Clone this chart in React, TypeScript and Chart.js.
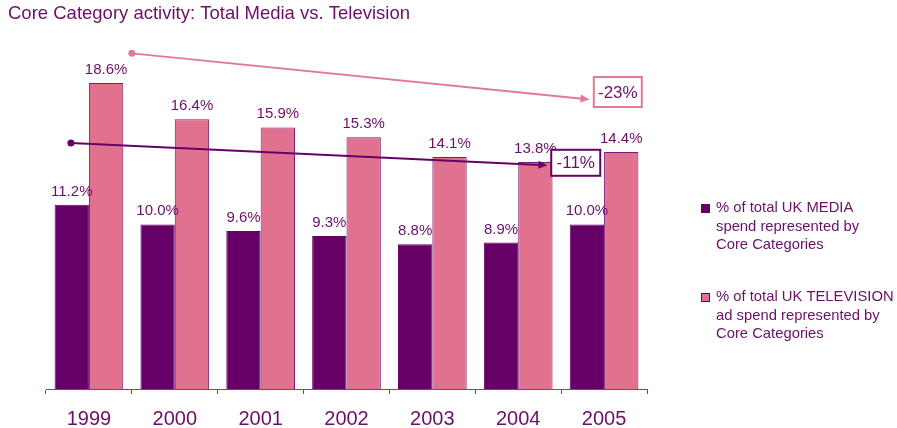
import { useEffect, useRef } from 'react';
import { Chart, registerables } from 'chart.js';
Chart.register(...registerables);

const titleText = 'Core Category activity: Total Media vs. Television';
const years = ['1999', '2000', '2001', '2002', '2003', '2004', '2005'];
const mediaShare = [11.2, 10.0, 9.6, 9.3, 8.8, 8.9, 10.0];
const tvShare = [18.6, 16.4, 15.9, 15.3, 14.1, 13.8, 14.4];
const mediaLegend = ['% of total UK MEDIA', 'spend represented by', 'Core Categories'];
const tvLegend = ['% of total UK TELEVISION', 'ad spend represented by', 'Core Categories'];
// trend annotations: [index, value] in data units
const tvTrendStart = [0.5, 20.4];
const tvTrendEnd = [5.83, 17.6];
const tvTrendBox = [6.16, 18.05];
const tvTrendLabel = '-23%';
const mediaTrendStart = [-0.21, 14.95];
const mediaTrendEnd = [5.34, 13.6];
const mediaTrendBox = [5.67, 13.75];
const mediaTrendLabel = '-11%';

const DARK = '#660066';
const PINK = '#E0718F';
const PINK_LINE = '#E27A96';
const TEXT = '#6a1068';
const FONT = '"Liberation Sans", Arial, sans-serif';

function arrow(ctx: CanvasRenderingContext2D, x1: number, y1: number, x2: number, y2: number, color: string) {
  ctx.save();
  ctx.strokeStyle = color;
  ctx.fillStyle = color;
  ctx.lineWidth = 2;
  ctx.beginPath();
  ctx.arc(x1, y1, 3.5, 0, Math.PI * 2);
  ctx.fill();
  const ang = Math.atan2(y2 - y1, x2 - x1);
  const hl = 9;
  ctx.beginPath();
  ctx.moveTo(x1, y1);
  ctx.lineTo(x2 - Math.cos(ang) * hl * 0.8, y2 - Math.sin(ang) * hl * 0.8);
  ctx.stroke();
  ctx.beginPath();
  ctx.moveTo(x2, y2);
  ctx.lineTo(x2 - hl * Math.cos(ang) + 4 * Math.sin(ang), y2 - hl * Math.sin(ang) - 4 * Math.cos(ang));
  ctx.lineTo(x2 - hl * Math.cos(ang) - 4 * Math.sin(ang), y2 - hl * Math.sin(ang) + 4 * Math.cos(ang));
  ctx.closePath();
  ctx.fill();
  ctx.restore();
}

function box(ctx: CanvasRenderingContext2D, cx: number, cy: number, w: number, h: number, color: string, label: string) {
  ctx.save();
  ctx.fillStyle = '#ffffff';
  ctx.fillRect(cx - w / 2, cy - h / 2, w, h);
  ctx.strokeStyle = color;
  ctx.lineWidth = 2;
  ctx.strokeRect(cx - w / 2, cy - h / 2, w, h);
  ctx.fillStyle = TEXT;
  ctx.font = `17px ${FONT}`;
  ctx.textAlign = 'center';
  ctx.textBaseline = 'middle';
  ctx.fillText(label, cx, cy + 1);
  ctx.restore();
}

const overlay = {
  id: 'overlay',
  afterDatasetsDraw(chart: any) {
    const ctx: CanvasRenderingContext2D = chart.ctx;
    const xs = chart.scales.x;
    const ys = chart.scales.y;
    // value labels
    ctx.save();
    ctx.fillStyle = TEXT;
    ctx.font = `15px ${FONT}`;
    ctx.textAlign = 'center';
    ctx.textBaseline = 'alphabetic';
    chart.data.datasets.forEach((ds: any, di: number) => {
      const meta = chart.getDatasetMeta(di);
      meta.data.forEach((bar: any, i: number) => {
        ctx.fillText(ds.data[i].toFixed(1) + '%', bar.x, bar.y - 9);
      });
    });
    ctx.restore();
    const px = (p: number[]) => [xs.getPixelForValue(p[0]), ys.getPixelForValue(p[1])];
    const [a1, b1] = px(tvTrendStart);
    const [a2, b2] = px(tvTrendEnd);
    arrow(ctx, a1, b1, a2, b2, PINK_LINE);
    const [c1, d1] = px(mediaTrendStart);
    const [c2, d2] = px(mediaTrendEnd);
    arrow(ctx, c1, d1, c2, d2, DARK);
    const [e, f] = px(tvTrendBox);
    box(ctx, e, f, 48, 30, PINK_LINE, tvTrendLabel);
    const [g, h] = px(mediaTrendBox);
    box(ctx, g, h, 49, 26, DARK, mediaTrendLabel);
  },
  afterDraw(chart: any) {
    const ctx: CanvasRenderingContext2D = chart.ctx;
    ctx.save();
    ctx.fillStyle = TEXT;
    ctx.font = `18.5px ${FONT}`;
    ctx.textAlign = 'left';
    ctx.textBaseline = 'middle';
    ctx.fillText(titleText, 8, 14);
    // legend
    ctx.font = `14.8px ${FONT}`;
    const lx = 716;
    const items = [
      { lines: mediaLegend, y: 208, fill: DARK },
      { lines: tvLegend, y: 297, fill: PINK },
    ];
    items.forEach((it) => {
      ctx.fillStyle = it.fill;
      ctx.fillRect(701, it.y - 4, 9, 9);
      ctx.strokeStyle = DARK;
      ctx.lineWidth = 1;
      ctx.strokeRect(701.5, it.y - 3.5, 8, 8);
      ctx.fillStyle = TEXT;
      it.lines.forEach((ln, k) => ctx.fillText(ln, lx, it.y + k * 18.5));
    });
    ctx.restore();
  },
};

export default function App() {
  const ref = useRef<HTMLCanvasElement>(null);
  useEffect(() => {
    if (!ref.current) return;
    const chart = new Chart(ref.current, {
      type: 'bar',
      data: {
        labels: years,
        datasets: [
          { label: mediaLegend.join(' '), data: mediaShare, backgroundColor: DARK, borderColor: DARK, borderWidth: 1, categoryPercentage: 0.8, barPercentage: 1 },
          { label: tvLegend.join(' '), data: tvShare, backgroundColor: PINK, borderColor: '#7a1a72', borderWidth: 1, categoryPercentage: 0.8, barPercentage: 1 },
        ],
      },
      options: {
        responsive: false,
        animation: false,
        layout: { padding: { left: 46, right: 250, top: 43.5, bottom: 0 } },
        plugins: { legend: { display: false }, title: { display: false }, tooltip: { enabled: false } },
        scales: {
          x: {
            afterFit: (s: any) => { s.height = 39; },
            grid: { display: true, drawOnChartArea: false, drawTicks: true, tickLength: 5, offset: true, color: '#8a3a88' },
            border: { display: true, color: '#8a3a88', width: 1 },
            ticks: { color: TEXT, font: { size: 20, family: FONT }, padding: 13 },
          },
          y: { display: false, min: 0, max: 21 },
        },
      },
      plugins: [overlay],
    });
    return () => chart.destroy();
  }, []);
  return (
    <div style={{ position: 'absolute', left: 0, top: 0, width: 897, height: 428, background: '#fff' }}>
      <canvas ref={ref} width={897} height={428} />
    </div>
  );
}
